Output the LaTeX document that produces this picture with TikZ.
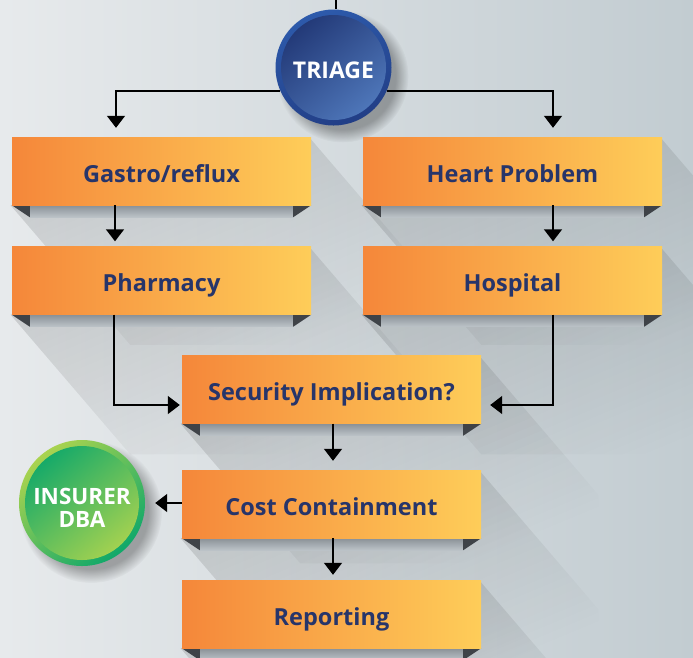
\documentclass[tikz,border=0pt]{standalone}
\usepackage{fontspec}
\setmainfont{Open Sans}
\usetikzlibrary{arrows.meta,fadings,backgrounds,calc}
\definecolor{bgL}{HTML}{E7EAEC}
\definecolor{bgR}{HTML}{C2CCD1}
\definecolor{orA}{HTML}{F5873A}
\definecolor{orB}{HTML}{FECD59}
\definecolor{navy}{HTML}{27356A}
\definecolor{tri}{HTML}{3F4348}
\definecolor{bandT}{HTML}{8A9197}
\definecolor{bandB}{HTML}{BCC3C8}
\definecolor{triA}{HTML}{213775}
\definecolor{triB}{HTML}{5079BC}
\definecolor{ringA}{HTML}{2D5AAB}
\definecolor{ringB}{HTML}{223E86}
\definecolor{grA}{HTML}{10A86A}
\definecolor{grB}{HTML}{AAD34F}
\tikzset{
  flowbox/.style={rectangle, minimum width=299pt, minimum height=68pt, inner sep=0pt,
    text height=22pt, text depth=0pt,
    left color=orA, right color=orB, text=navy, font=\bfseries\fontsize{23.5}{26}\selectfont},
  arr/.style={line width=1.5pt, -{Triangle[width=18pt,length=12pt]}},
  plain/.style={line width=1.5pt},
  roundlabel/.style={circle, inner sep=0pt, text=white, align=center},
}
\newcommand\boxshadow[1]{%
  \fill[black, fill opacity=0.13, path fading=east, fading angle=-50]
    (#1.north east) -- ($(#1.north east)+(120,140)$) -- ($(#1.south east)+(120,140)$)
    -- ($(#1.south west)+(120,140)$) -- (#1.south west) -- cycle;}
\newcommand\boxfold[1]{%
  \shade[top color=bandT, bottom color=bandB] ($(#1.south west)+(18,0)$) rectangle ($(#1.south east)+(-18,12)$);
  \fill[tri] (#1.south west) -- ++(18,0) -- ++(0,12) -- cycle;
  \fill[tri] (#1.south east) -- ++(-18,0) -- ++(0,12) -- cycle;}
\begin{document}
\begin{tikzpicture}[x=1pt,y=-1pt]
\useasboundingbox (0,0) rectangle (693,657);

\node[flowbox] (gastro) at (161.5,171) {Gastro/reflux};
\node[flowbox] (heart) at (512.5,171) {Heart Problem};
\node[flowbox] (pharm) at (161.5,280.5) {Pharmacy};
\node[flowbox] (hosp) at (512.5,280.5) {Hospital};
\node[flowbox] (secur) at (331.5,389.5) {Security Implication?};
\node[flowbox] (cost) at (331.5,504) {Cost Containment};
\node[flowbox] (report) at (331.5,614) {Reporting};

\node[roundlabel, font=\bfseries\fontsize{23}{26}\selectfont, minimum size=116pt,
  top color=ringA, bottom color=ringB, shading angle=20,
  path picture={\shade[top color=triA, bottom color=triB, shading angle=40]
    (path picture bounding box.center) circle (52.5pt);}] (triage) at (333.5,67.5) {\raisebox{-2.5pt}[\height][\depth]{TRIAGE}};
\node[roundlabel, font=\bfseries\fontsize{22.5}{24}\selectfont, minimum size=126pt,
  top color=grB, bottom color=grA, shading angle=40,
  path picture={\shade[top color=grA, bottom color=grB, shading angle=40]
    (path picture bounding box.center) circle (57pt);}] (insurer) at (82,503) {\raisebox{-8.5pt}[\height][\depth]{\begin{tabular}{@{}c@{}}INSURER\\[-1pt]DBA\end{tabular}}};

\begin{scope}[on background layer]
  \shade[left color=bgL, right color=bgR] (0,0) rectangle (693,657);
  \foreach \b in {gastro,heart,pharm,hosp,secur,cost,report} {\boxshadow{\b}}
  \fill[black, opacity=0.3, path fading=circle with fuzzy edge 20 percent] ($(triage.center)+(9,9)$) circle (66pt);
  \fill[black, opacity=0.3, path fading=circle with fuzzy edge 20 percent] ($(insurer.center)+(9,9)$) circle (71pt);
  \foreach \b in {gastro,heart,pharm,hosp,secur,cost,report} {\boxfold{\b}}
\end{scope}

\coordinate (topin) at (336,0);
\draw[plain] (topin) -- (topin |- triage.north);
\draw[arr, shorten >=9pt] (triage.204) -| ([xshift=-45.5pt]gastro.north);
\draw[arr, shorten >=9pt] (triage.-24) -| ([xshift=40.5pt]heart.north);
\draw[arr, shorten >=5pt] ([xshift=-46.5pt]gastro.south) -- ([xshift=-46.5pt]pharm.north);
\draw[arr, shorten >=5pt] ([xshift=40.5pt]heart.south) -- ([xshift=40.5pt]hosp.north);
\draw[arr, shorten >=2pt] ([xshift=-47.5pt]pharm.south) |- ([yshift=-15.5pt]secur.west);
\draw[arr, shorten >=9pt] ([xshift=40.5pt]hosp.south) |- ([yshift=-15.5pt]secur.east);
\draw[arr, shorten >=9pt] ([xshift=1.5pt]secur.south) -- ([xshift=1.5pt]cost.north);
\draw[arr, shorten >=5pt] ([xshift=1.5pt]cost.south) -- ([xshift=1.5pt]report.north);
\draw[arr, shorten >=10pt] ([yshift=1pt]cost.west) -- ([yshift=1pt]cost.west -| insurer.east);
\end{tikzpicture}
\end{document}
